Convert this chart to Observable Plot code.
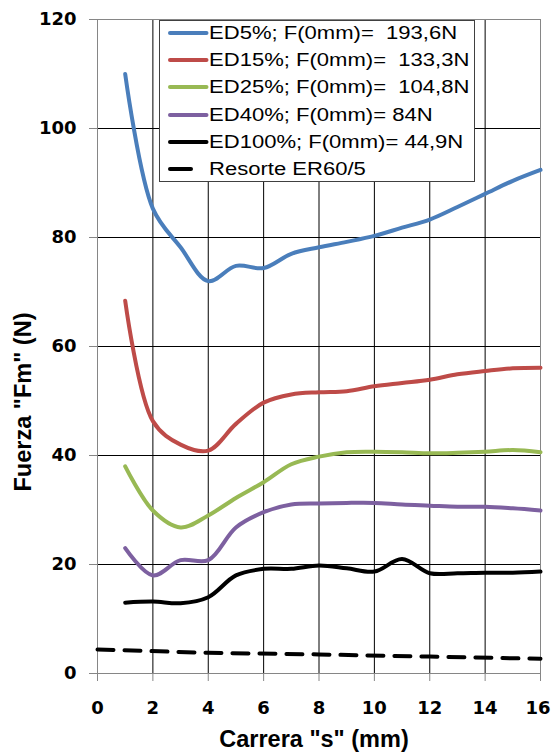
<!DOCTYPE html>
<html>
<head>
<meta charset="utf-8">
<script src="https://cdn.jsdelivr.net/npm/d3@7"></script>
<script src="https://cdn.jsdelivr.net/npm/@observablehq/plot@0.6"></script>
<style>
  html, body { margin: 0; padding: 0; background: #fff; }
  #wrap { position: relative; width: 551px; height: 752px; }
  #legend { position: absolute; left: 158.5px; top: 19.5px; width: 316.5px; height: 162.5px;
    box-sizing: border-box; border: 1px solid #404040; background: #fff; }
  .row { position: absolute; left: 0; height: 26px; width: 100%; }
  .row svg { position: absolute; left: 0; top: 0; }
  .row span { position: absolute; left: 49.5px; top: 0; line-height: 26px; white-space: pre;
    font-family: "Liberation Sans", Arial, sans-serif; font-size: 17.5px; color: #000;
    transform: scaleX(1.26); transform-origin: 0 50%; }
</style>
</head>
<body>
<div id="wrap"></div>
<script>
// ---- data ----
const xTicks = [0, 2, 4, 6, 8, 10, 12, 14, 16];
const yTicks = [0, 20, 40, 60, 80, 100, 120];
const carrera = [1, 2, 3, 4, 5, 6, 7, 8, 9, 10, 11, 12, 13, 14, 15, 16];
const ed5   = [110, 85.3, 78.2, 72.0, 74.8, 74.4, 77.0, 78.2, 79.2, 80.3, 81.8, 83.3, 85.6, 88.0, 90.4, 92.4];
const ed15  = [68.4, 46.3, 42.0, 40.9, 45.8, 49.7, 51.2, 51.6, 51.8, 52.7, 53.3, 53.9, 54.9, 55.5, 56.0, 56.1];
const ed25  = [38.0, 29.9, 26.8, 29.0, 32.2, 35.1, 38.4, 39.8, 40.6, 40.7, 40.6, 40.4, 40.5, 40.7, 41.0, 40.6];
const ed40  = [23.0, 18.0, 20.8, 20.8, 26.8, 29.6, 31.0, 31.2, 31.3, 31.3, 31.0, 30.8, 30.6, 30.6, 30.3, 29.9];
const ed100 = [13.0, 13.2, 12.9, 14.0, 18.0, 19.2, 19.2, 19.8, 19.3, 18.7, 21.0, 18.4, 18.4, 18.5, 18.5, 18.7];
const resorteS = [0, 4, 8, 12, 16];
const resorteF = [4.4, 3.8, 3.5, 3.1, 2.7];
const names = ["ED5%; F(0mm)=  193,6N", "ED15%; F(0mm)=  133,3N", "ED25%; F(0mm)=  104,8N",
               "ED40%; F(0mm)= 84N", "ED100%; F(0mm)= 44,9N", "Resorte ER60/5"];
const colors = ["#4a7ebb", "#be4b48", "#98b954", "#7d60a0", "#000000", "#000000"];
const xTitle = 'Carrera "s" (mm)';
const yTitle = 'Fuerza "Fm" (N)';

const seriesValues = [ed5, ed15, ed25, ed40, ed100];
const tables = seriesValues.map(v => carrera.map((s, i) => ({s, F: v[i]})));
const resorte = resorteS.map((s, i) => ({s, F: resorteF[i]}));

const chart = Plot.plot({
  width: 551, height: 752,
  marginLeft: 97, marginRight: 11, marginTop: 19, marginBottom: 79,
  style: { fontFamily: "DejaVu Sans", fontSize: "18px", fontWeight: "bold", color: "#000", background: "#fff" },
  x: { domain: [0, 16] },
  y: { domain: [0, 120] },
  marks: [
    Plot.gridX(xTicks, { stroke: "#000", strokeOpacity: 1, strokeWidth: 1 }),
    Plot.gridY(yTicks, { stroke: "#000", strokeOpacity: 1, strokeWidth: 1 }),
    Plot.frame({ stroke: "#868686", strokeWidth: 1 }),
    Plot.axisX({ ticks: xTicks, tickSize: 8, tickPadding: 20, stroke: "#868686", fill: "#000", label: null, tickFormat: d => String(d) }),
    Plot.axisY({ ticks: yTicks, tickSize: 8, tickPadding: 13, stroke: "#868686", fill: "#000", label: null, tickFormat: d => String(d) }),
    Plot.line(resorte, { x: "s", y: "F", stroke: "#000", strokeWidth: 4, strokeDasharray: "16,11", strokeLinecap: "round" }),
    ...tables.map((t, i) => Plot.line(t, { x: "s", y: "F", stroke: colors[i], strokeWidth: 4, curve: "catmull-rom" })).reverse()
  ]
});

const wrap = document.getElementById("wrap");
wrap.appendChild(chart);

const svg = d3.select(chart);
// keep the last x tick label inside the picture
svg.selectAll("text").filter(function () { return this.textContent === "16"; }).attr("dx", -2.5);

svg.append("text")
  .attr("x", 314).attr("y", 747)
  .attr("text-anchor", "middle")
  .style("font-family", "'Liberation Sans', Arial, sans-serif")
  .style("font-size", "23.5px").style("font-weight", "bold").attr("fill", "#000")
  .text(xTitle);
svg.append("text")
  .attr("transform", "translate(31,402) rotate(-90)")
  .attr("text-anchor", "middle")
  .style("font-family", "'Liberation Sans', Arial, sans-serif")
  .style("font-size", "23.5px").style("font-weight", "bold").attr("fill", "#000")
  .text(yTitle);

// ---- legend ----
const legend = d3.select(wrap).append("div").attr("id", "legend");
const rowCenters = [13.2, 40.5, 67.8, 95.1, 122.4, 149.7];
names.forEach((name, i) => {
  const row = legend.append("div").attr("class", "row").style("top", (rowCenters[i] - 13 - 1) + "px");
  const sw = row.append("svg").attr("width", 50).attr("height", 26);
  sw.append("line")
    .attr("x1", 10).attr("x2", i === 5 ? 31 : 46.5)
    .attr("y1", 13).attr("y2", 13)
    .attr("stroke", colors[i]).attr("stroke-width", 4).attr("stroke-linecap", "round");
  row.append("span").text(name);
});
</script>
</body>
</html>
